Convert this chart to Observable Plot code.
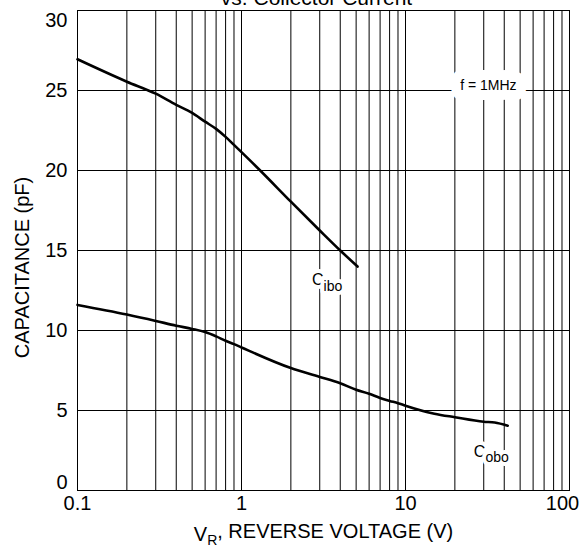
<!DOCTYPE html>
<html>
<head>
<meta charset="utf-8">
<script src="https://cdn.jsdelivr.net/npm/d3@7"></script>
<script src="https://cdn.jsdelivr.net/npm/@observablehq/plot@0.6"></script>
<style>
  body { margin: 0; background: #fff; }
</style>
</head>
<body>
<div id="chart"></div>
<script>
// ---- data ----
const ciboVoltage = [0.1, 0.2, 0.3, 0.4, 0.5, 0.6, 0.7, 0.8, 0.9, 1, 1.3, 2, 3, 4, 5.1];
const ciboCap     = [26.95, 25.55, 24.8, 24.1, 23.6, 23.05, 22.6, 22.1, 21.6, 21.15, 20.0, 18.05, 16.25, 15.0, 14.0];

const coboVoltage = [0.1, 0.2, 0.3, 0.4, 0.5, 0.6, 0.7, 0.8, 0.9, 1, 2, 3, 4, 5, 6, 7, 8, 9, 10, 15, 20, 30, 35, 42];
const coboCap     = [11.6, 11.0, 10.6, 10.3, 10.1, 9.9, 9.63, 9.36, 9.15, 8.94, 7.65, 7.1, 6.7, 6.3, 6.05, 5.78, 5.6, 5.46, 5.3, 4.8, 4.58, 4.3, 4.25, 4.05];

const xTickLabels = [0.1, 1, 10, 100];
const yTickLabels = [0, 5, 10, 15, 20, 25, 30];
const xGridValues = [0.2, 0.3, 0.4, 0.5, 0.6, 0.7, 0.8, 0.9, 1, 2, 3, 4, 5, 6, 7, 8, 9, 10, 20, 30, 40, 50, 60, 70, 80, 90];
const yGridValues = [5, 10, 15, 20, 25];

const titleText = "vs. Collector Current";
const yLabelText = "CAPACITANCE (pF)";
const xLabelText = "VR, REVERSE VOLTAGE (V)";

// annotations (data coordinates)
const curveLabels = [
  {name: "Cibo", v: 2.69, c: 13.15},
  {name: "Cobo", v: 26.1, c: 2.44}
];
const freqNote = [{text: "f = 1MHz", v: 32, c: 25.3}];

// ---- build tables ----
const cibo = ciboVoltage.map((v, i) => ({v, c: ciboCap[i]}));
const cobo = coboVoltage.map((v, i) => ({v, c: coboCap[i]}));

const font = "'Liberation Sans', Arial, Helvetica, sans-serif";

const chart = Plot.plot({
  width: 588,
  height: 550,
  marginLeft: 77,
  marginRight: 19,
  marginTop: 10,
  marginBottom: 60,
  style: {fontFamily: font, fontSize: "20px", background: "#fff", color: "#000", overflow: "visible"},
  x: {type: "log", domain: [0.1, 100]},
  y: {domain: [0, 30]},
  marks: [
    Plot.ruleX(xGridValues, {stroke: "#000", strokeWidth: 1}),
    Plot.ruleY(yGridValues, {stroke: "#000", strokeWidth: 1}),
    Plot.line(cibo, {x: "v", y: "c", curve: "monotone-x", stroke: "#000", strokeWidth: 2.6}),
    Plot.line(cobo, {x: "v", y: "c", curve: "monotone-x", stroke: "#000", strokeWidth: 2.6}),
    Plot.text(freqNote, {x: "v", y: "c", text: "text", fontSize: 14, fill: "#000", stroke: "#fff", strokeWidth: 20, textAnchor: "middle"}),
    Plot.text(curveLabels, {x: "v", y: "c", text: "name", fontSize: 16, fill: "#000", stroke: "#fff", strokeWidth: 8, textAnchor: "start"}),
    Plot.frame({stroke: "#000", strokeWidth: 1}),
    Plot.axisX(xTickLabels.slice(0, 3), {tickSize: 0, tickPadding: 5, tickFormat: d => String(d), label: null, fontSize: 20}),
    Plot.axisX(xTickLabels.slice(3), {tickSize: 0, tickPadding: 5, tickFormat: d => String(d), label: null, fontSize: 20, dx: -7}),
    Plot.axisY(yTickLabels.slice(1, 6), {tickSize: 0, tickPadding: 10, label: null, fontSize: 20}),
    Plot.axisY(yTickLabels.slice(6), {tickSize: 0, tickPadding: 10, label: null, fontSize: 20, dy: 10}),
    Plot.axisY(yTickLabels.slice(0, 1), {tickSize: 0, tickPadding: 10, label: null, fontSize: 20, dy: -8}),
    Plot.text([titleText], {frameAnchor: "top", text: d => d, lineAnchor: "bottom", dy: -6, dx: -7, fontSize: 21}),
    Plot.text([yLabelText], {frameAnchor: "left", text: d => d, rotate: -90, textAnchor: "middle", lineAnchor: "middle", dx: -55, dy: 17, fontSize: 20}),
    Plot.text([xLabelText], {frameAnchor: "bottom", text: d => d, lineAnchor: "bottom", dy: 50, fontSize: 20})
  ]
});

// subscripts via tspans
const svg = d3.select(chart);
svg.selectAll("text").filter(function() { return this.textContent === xLabelText; }).each(function() {
  const t = d3.select(this);
  t.text(null);
  t.append("tspan").text("V");
  t.append("tspan").attr("font-size", 14).attr("dy", "0.35em").text("R");
  t.append("tspan").attr("dy", "-0.35em").text(", REVERSE VOLTAGE (V)");
});
for (const lab of curveLabels) {
  svg.selectAll("text").filter(function() { return this.textContent === lab.name; }).each(function() {
    const t = d3.select(this);
    t.text(null);
    t.append("tspan").text(lab.name.slice(0, 1));
    t.append("tspan").attr("font-size", 14).attr("dy", "0.4em").text(lab.name.slice(1));
  });
}

document.getElementById("chart").append(chart);
</script>
</body>
</html>
